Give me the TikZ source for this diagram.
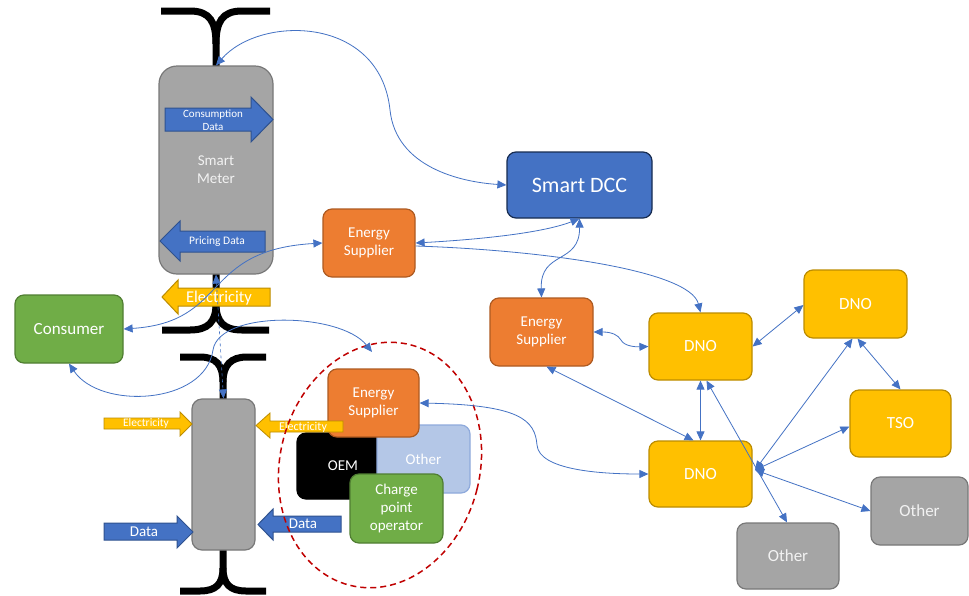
\documentclass[tikz,border=0pt]{standalone}
\usepackage{fontspec}
\setmainfont{Carlito}
\usetikzlibrary{arrows.meta,calc}

\definecolor{accblue}{HTML}{4472C4}
\definecolor{accblueline}{HTML}{2F528F}
\definecolor{navyline}{HTML}{172C51}
\definecolor{accorange}{HTML}{ED7D31}
\definecolor{orangeline}{HTML}{AE5A21}
\definecolor{accgold}{HTML}{FFC000}
\definecolor{goldline}{HTML}{BC8C00}
\definecolor{accgreen}{HTML}{70AD47}
\definecolor{greenline}{HTML}{507E32}
\definecolor{accgray}{HTML}{A5A5A5}
\definecolor{grayline}{HTML}{787878}
\definecolor{paleblue}{HTML}{B4C7E7}
\definecolor{palebline}{HTML}{8FAADC}
\definecolor{ringred}{HTML}{C00000}
\definecolor{softwhite}{HTML}{F2F2F2}

\begin{document}
\begin{tikzpicture}[x=1pt,y=-1pt,
  box/.style={draw, line width=1.2pt, rounded corners=9pt, align=center,
    text=white, inner sep=0pt},
  orangebox/.style={box, fill=accorange, draw=orangeline,
    font=\fontsize{15}{18}\selectfont},
  goldbox/.style={box, fill=accgold, draw=goldline,
    font=\fontsize{17}{20}\selectfont},
  graybox/.style={box, fill=accgray, draw=grayline, text=softwhite,
    font=\fontsize{17}{20}\selectfont},
  ybar/.style={line width=7pt, black},
  bluearrow/.style={fill=accblue, draw=accblueline, line width=1pt},
  goldarrow/.style={fill=accgold, draw=goldline, line width=1pt},
  lbl/.style={text=white, inner sep=0pt, align=center},
  tip/.style={Triangle[length=9pt,width=8pt]},
  link/.style={draw=accblue, line width=0.8pt, {Triangle[length=9pt,width=8pt]}-{Triangle[length=9pt,width=8pt]}},
  linkend/.style={draw=accblue, line width=0.8pt, -{Triangle[length=9pt,width=8pt]}},
  ring/.style={draw=ringred, line width=1.5pt, dash pattern=on 6pt off 4pt}
]
\useasboundingbox (0,0) rectangle (969,595);
\fill[white] (0,0) rectangle (969,595);

% couplers above and below the two meters
\draw[ybar] (161,11) -- (190,11) .. controls (210,11) and (216,22) .. (216,44) -- (216,68);
\draw[ybar] (270,11) -- (242,11) .. controls (222,11) and (216,22) .. (216,44);
\draw[ybar] (216,272) -- (216,304) .. controls (216,322) and (208,330) .. (190,330) -- (162,330);
\draw[ybar] (216,304) .. controls (216,322) and (224,330) .. (242,330) -- (269,330);
\draw[ybar] (180,357) -- (200,357) .. controls (216,357) and (223,365) .. (223,382) -- (223,401);
\draw[ybar] (266,357) -- (247,357) .. controls (231,357) and (223,365) .. (223,382);
\draw[ybar] (223,548) -- (223,568) .. controls (223,584) and (216,591) .. (200,591) -- (180,591);
\draw[ybar] (223,568) .. controls (223,584) and (230,591) .. (246,591) -- (266,591);

% smart meter with its data flows
\node[box, fill=accgray, draw=grayline, text=softwhite, rounded corners=18pt,
  minimum width=114, minimum height=208, font=\fontsize{15}{18}\selectfont]
  (sm) at (216,170) {Smart\\Meter};
\draw[bluearrow] (165,108) -- (251,108) -- (251,97) -- (273,119.5) -- (251,142)
  -- (251,131) -- (165,131) -- cycle;
\node[lbl, font=\fontsize{11}{13}\selectfont] (consdata) at (213,120.5) {Consumption\\Data};
\draw[bluearrow] (160,241) -- (180,221) -- (180,231) -- (265,231) -- (265,252)
  -- (180,252) -- (180,261) -- cycle;
\node[lbl, font=\fontsize{11.5}{13}\selectfont] (pricedata) at (217,241.5) {Pricing Data};
\draw[goldarrow] (162,297) -- (178,280) -- (178,288) -- (270,288) -- (270,306)
  -- (178,306) -- (178,314) -- cycle;
\node[lbl, font=\fontsize{16.5}{19}\selectfont] (elecbig) at (219,298) {Electricity};

% lower meter
\node[box, fill=accgray, draw=grayline, rounded corners=10pt,
  minimum width=63, minimum height=151] (lm) at (223.5,474.5) {};

% main actors
\node[box, fill=accgreen, draw=greenline, minimum width=108, minimum height=68,
  font=\fontsize{17}{20}\selectfont] (cons) at (69,329) {Consumer};
\node[orangebox, minimum width=92, minimum height=68] (es1) at (369,243) {Energy\\Supplier};
\node[box, fill=accblue, draw=navyline, minimum width=145, minimum height=66,
  font=\fontsize{22}{26}\selectfont] (dcc) at (579.5,185) {Smart DCC};
\node[orangebox, minimum width=103, minimum height=68] (es2) at (541.5,332) {Energy\\Supplier};
\node[goldbox, minimum width=103, minimum height=67] (dno1) at (700.5,346.5) {DNO};
\node[goldbox, minimum width=103, minimum height=68] (dno3) at (855.5,304) {DNO};
\node[goldbox, minimum width=101, minimum height=67] (tso) at (900.5,423.5) {TSO};
\node[goldbox, minimum width=103, minimum height=66] (dno2) at (700.5,474) {DNO};
\node[graybox, minimum width=97, minimum height=68] (oth2) at (919.5,511) {Other};
\node[graybox, minimum width=102, minimum height=66] (oth1) at (788,556) {Other};

% cluster of charging parties
\node[box, fill=black, draw=black, minimum width=92, minimum height=66,
  font=\fontsize{15}{18}\selectfont, text width=80] (oem) at (343,466) {OEM};
\node[box, fill=paleblue, draw=palebline, minimum width=93, minimum height=68,
  font=\fontsize{15}{18}\selectfont] (othb) at (423.5,459) {Other};
\node[orangebox, minimum width=91, minimum height=68] (es3) at (373.5,403) {Energy\\Supplier};
\node[box, fill=accgreen, draw=greenline, minimum width=93, minimum height=69,
  font=\fontsize{15}{18}\selectfont] (cpo) at (396.5,508.5) {Charge\\point\\operator};

% flows into the lower meter
\draw[goldarrow, line width=0.8pt] (104,418) -- (180,418) -- (180,412) -- (192,424)
  -- (180,436) -- (180,429) -- (104,429) -- cycle;
\node[lbl, font=\fontsize{11.5}{13}\selectfont] (elecl) at (146,423.5) {Electricity};
\draw[goldarrow, line width=0.8pt] (256,425.5) -- (270,413) -- (270,421) -- (343,421)
  -- (343,432) -- (270,432) -- (270,438) -- cycle;
\node[lbl, font=\fontsize{12}{14}\selectfont] (elecr) at (303,427) {Electricity};
\draw[bluearrow] (104,523) -- (177,523) -- (177,516) -- (193,532) -- (177,548)
  -- (177,540) -- (104,540) -- cycle;
\node[lbl, font=\fontsize{15}{18}\selectfont] (datal) at (144,532) {Data};
\draw[bluearrow] (258,524.5) -- (273,509) -- (273,516) -- (341,516) -- (341,532)
  -- (273,532) -- (273,540) -- cycle;
\node[lbl, font=\fontsize{15}{18}\selectfont] (datar) at (303,524) {Data};

% dashed ring round the charging parties
\draw[ring, rotate around={-14:(380,465)}] (380,465) ellipse [x radius=100, y radius=124];
\coordinate (ringtop) at (372,352);
\coordinate (hub) at (755,470);

% connectors
\draw[link] (sm.north) .. controls (260,15) and (380,15) .. (390,110)
  .. controls (396,167) and (460,182) .. (dcc.west);
\draw[link] (es1.east) .. controls (470,240) and (540,234) .. (dcc.south);
\draw[linkend] ($(es1.east)+(0,3)$) .. controls (540,250) and (690,270) .. (dno1.north);
\draw[link] (dcc.south) .. controls (580,265) and (540,250) .. (es2.north);
\draw[link] (cons.east) .. controls (230,322) and (200,250) .. (es1.west);
\draw[link] (cons.south) .. controls (100,410) and (205,405) .. (213,350)
  .. controls (219,310) and (340,312) .. (ringtop);
\draw[link, dashed, line width=0.6pt] (sm.south) -- (lm.north);
\draw[link] (es3.east) .. controls (520,405) and (535,420) .. (537,445)
  .. controls (539,470) and (600,474) .. (dno2.west);
\draw[link] (es2.east) .. controls (612,332) and (618,335) .. (621,340)
  .. controls (624,346) and (635,347) .. (dno1.west);
\draw[link] (dno1.east) -- ($(dno3.west)+(0,1)$);
\draw[link] (dno1.south) -- (dno2.north);
\draw[link] ($(es2.south)+(5,0)$) -- ($(dno2.north)+(-7,0)$);
\draw[link] ($(dno1.south)+(6,0)$) -- ($(oth1.north)+(-1,0)$);
\draw[link] (hub) -- ($(dno3.south)+(-3,0)$);
\draw[link] (hub) -- ($(tso.west)+(0,3)$);
\draw[link] (hub) -- (oth2.west);
\draw[link] ($(dno3.south)+(2,0)$) -- (tso.north);
\end{tikzpicture}
\end{document}
